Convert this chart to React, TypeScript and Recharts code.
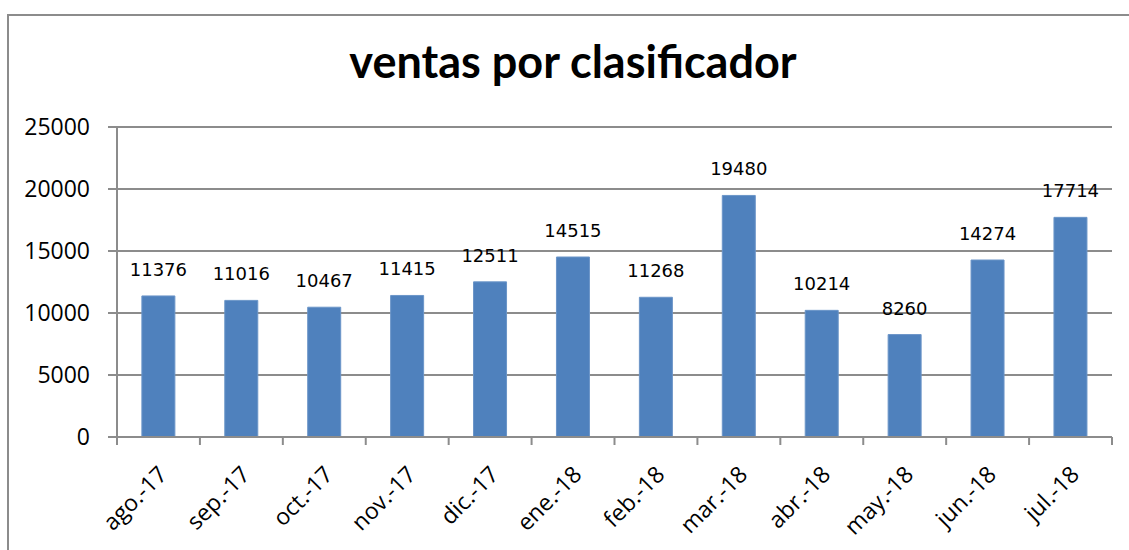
import { BarChart, Bar, XAxis, YAxis, CartesianGrid, LabelList } from 'recharts';

const months = [
  'ago.-17', 'sep.-17', 'oct.-17', 'nov.-17', 'dic.-17', 'ene.-18',
  'feb.-18', 'mar.-18', 'abr.-18', 'may.-18', 'jun.-18', 'jul.-18',
];
const ventas = [11376, 11016, 10467, 11415, 12511, 14515, 11268, 19480, 10214, 8260, 14274, 17714];
const yTicks = [0, 5000, 10000, 15000, 20000, 25000];

const data = months.map((mes, i) => ({ mes, ventas: ventas[i] }));

const W = 1129;
const H = 550;
const xAxisHeight = 30;
const margin = { top: 127, right: 17, bottom: 113 - xAxisHeight, left: 0 };
const yAxisWidth = 117;
const band = (W - margin.left - margin.right - yAxisWidth) / months.length;
const grey = '#8c8c8c';

const MonthTick = (props: any) => {
  const { x, y, payload, index } = props;
  const left = x - band / 2;
  return (
    <g>
      <line x1={left} y1={y} x2={left} y2={y + 8} stroke={grey} strokeWidth={2} />
      {index === months.length - 1 && (
        <line x1={x + band / 2} y1={y} x2={x + band / 2} y2={y + 8} stroke={grey} strokeWidth={2} />
      )}
      <text
        transform={`translate(${x + 10},${y + 39}) rotate(-45)`}
        textAnchor="end"
        fontFamily="Open Sans"
        fontSize={23}
        fill="#000"
      >
        {payload.value}
      </text>
    </g>
  );
};

const App = () => {
  return (
    <div style={{ position: 'absolute', left: 0, top: 0, width: W, height: H, overflow: 'hidden', background: '#fff' }}>
      <div
        style={{
          position: 'absolute',
          left: 7,
          top: 14,
          width: W,
          height: H,
          borderLeft: `2px solid ${grey}`,
          borderTop: `2px solid ${grey}`,
        }}
      />
      <svg width={W} height={120} style={{ position: 'absolute', left: 0, top: 0 }}>
        <text x={573} y={78} textAnchor="middle" fontFamily="Lato" fontWeight="bold" fontSize={45} fill="#000">
          ventas por clasificador
        </text>
      </svg>
      <div style={{ position: 'absolute', left: 0, top: 0 }}>
        <BarChart width={W} height={H} data={data} margin={margin} barCategoryGap="30%">
          <CartesianGrid vertical={false} stroke={grey} strokeWidth={2} />
          <XAxis
            dataKey="mes"
            height={xAxisHeight}
            axisLine={{ stroke: grey, strokeWidth: 2 }}
            tickLine={false}
            tickSize={0}
            tickMargin={0}
            interval={0}
            tick={<MonthTick />}
          />
          <YAxis
            width={yAxisWidth}
            domain={[0, 25000]}
            ticks={yTicks}
            axisLine={{ stroke: grey, strokeWidth: 2 }}
            tickLine={{ stroke: grey, strokeWidth: 2 }}
            tickSize={9}
            tickMargin={18}
            tick={{ fill: '#000', fontFamily: 'Open Sans', fontSize: 23 }}
          />
          <Bar dataKey="ventas" fill="#4f81bd" stroke="#6b95c8" strokeWidth={1} isAnimationActive={false}>
            <LabelList
              dataKey="ventas"
              position="top"
              offset={20}
              fill="#000"
              fontFamily="DejaVu Sans"
              fontSize={18}
            />
          </Bar>
        </BarChart>
      </div>
    </div>
  );
};

export default App;
